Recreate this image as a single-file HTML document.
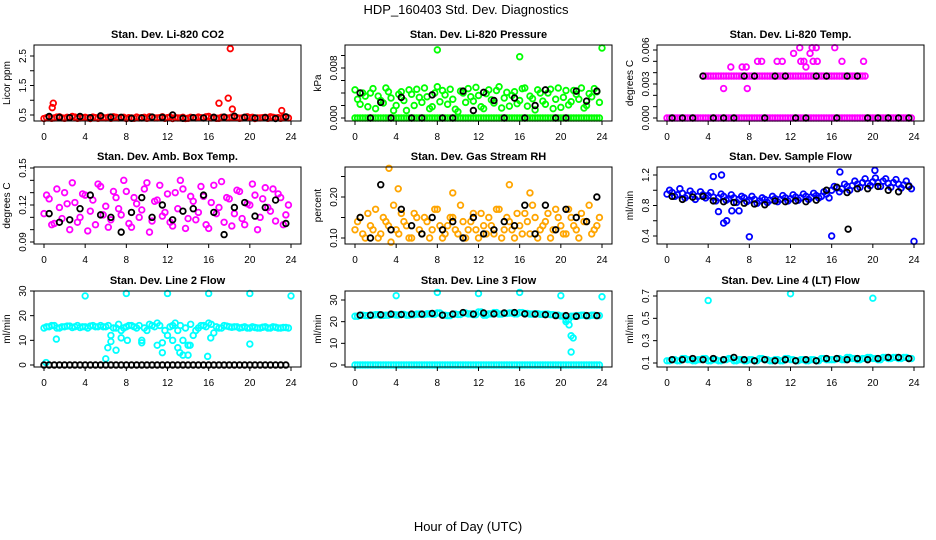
<!DOCTYPE html>
<html><head><meta charset="utf-8"><style>
html,body{margin:0;padding:0;background:#fff;}
svg{display:block;font-family:"Liberation Sans",sans-serif;}
</style></head><body>
<svg id="chart" width="936" height="540">
<text x="466" y="14" font-size="13" text-anchor="middle">HDP_160403  Std. Dev. Diagnostics</text>
<text x="468" y="531" font-size="13" text-anchor="middle">Hour of Day (UTC)</text>
</svg>
<script>
const X48=[0,0.5,1,1.5,2,2.5,3,3.5,4,4.5,5,5.5,6,6.5,7,7.5,8,8.5,9,9.5,10,10.5,11,11.5,12,12.5,13,13.5,14,14.5,15,15.5,16,16.5,17,17.5,18,18.5,19,19.5,20,20.5,21,21.5,22,22.5,23,23.5];
const X48b=[0.25,0.75,1.25,1.75,2.25,2.75,3.25,3.75,4.25,4.75,5.25,5.75,6.25,6.75,7.25,7.75,8.25,8.75,9.25,9.75,10.25,10.75,11.25,11.75,12.25,12.75,13.25,13.75,14.25,14.75,15.25,15.75,16.25,16.75,17.25,17.75,18.25,18.75,19.25,19.75,20.25,20.75,21.25,21.75,22.25,22.75,23.25,23.75];
const X24=[0.5,1.5,2.5,3.5,4.5,5.5,6.5,7.5,8.5,9.5,10.5,11.5,12.5,13.5,14.5,15.5,16.5,17.5,18.5,19.5,20.5,21.5,22.5,23.5];
const ZERO48=[0,0,0,0,0,0,0,0,0,0,0,0,0,0,0,0,0,0,0,0,0,0,0,0,0,0,0,0,0,0,0,0,0,0,0,0,0,0,0,0,0,0,0,0,0,0,0,0];
const xTicks=[0,4,8,12,16,20,24];

const p1Red=[0.38,0.42,0.40,0.44,0.39,0.41,0.43,0.40,0.42,0.38,0.41,0.44,0.40,0.39,0.42,0.41,0.38,0.40,0.43,0.41,0.39,0.42,0.40,0.44,0.41,0.38,0.40,0.42,0.39,0.41,0.43,0.40,0.45,0.42,0.39,0.41,0.40,0.43,0.39,0.42,0.41,0.38,0.40,0.42,0.44,0.40,0.39,0.41];
const p1RedB=[0.41,0.39,0.43,0.40,0.42,0.45,0.39,0.41,0.40,0.43,0.39,0.41,0.42,0.44,0.40,0.42,0.41,0.39,0.40,0.42,0.44,0.40,0.41,0.39,0.43,0.41,0.40,0.38,0.42,0.40,0.41,0.44,0.40,0.39,0.42,0.40,0.43,0.41,0.40,0.44,0.42,0.40,0.41,0.39,0.42,0.41,0.43,0.40];
const p1OutX=[0.8,0.9,17,17.9,18.1,18.3,23.1];
const p1OutY=[0.75,0.9,0.9,1.07,2.75,0.7,0.65];
const p1Blk=[0.45,0.42,0.41,0.45,0.41,0.47,0.43,0.42,0.39,0.40,0.43,0.42,0.50,0.39,0.41,0.40,0.42,0.43,0.46,0.42,0.40,0.41,0.38,0.44];

const p2Grn=[0.0045,0.0022,0.0035,0.0040,0.0015,0.0028,0.0048,0.0032,0.0020,0.0042,0.0012,0.0038,0.0046,0.0025,0.0034,0.0018,0.0050,0.0044,0.0022,0.0030,0.0010,0.0040,0.0047,0.0027,0.0036,0.0015,0.0045,0.0024,0.0050,0.0032,0.0019,0.0042,0.0028,0.0048,0.0035,0.0013,0.0040,0.0022,0.0046,0.0030,0.0017,0.0044,0.0026,0.0038,0.0048,0.0020,0.0034,0.0042];
const p2GrnB=[0.0030,0.0040,0.0018,0.0047,0.0035,0.0024,0.0042,0.0012,0.0038,0.0028,0.0045,0.0020,0.0033,0.0048,0.0015,0.0040,0.0026,0.0037,0.0046,0.0014,0.0043,0.0025,0.0034,0.0049,0.0018,0.0039,0.0029,0.0044,0.0016,0.0041,0.0036,0.0023,0.0047,0.0019,0.0031,0.0045,0.0027,0.0040,0.0015,0.0048,0.0033,0.0021,0.0044,0.0030,0.0016,0.0039,0.0047,0.0025];
const p2OutX=[8,16,24];
const p2OutY=[0.0109,0.0098,0.0112];
const p2Blk=[0.0040,0,0.0025,0,0.0033,0,0,0.0037,0,0,0.0043,0.0012,0.0041,0.0028,0,0.0032,0,0.0020,0.0045,0,0,0.0043,0.0027,0.0043];

const p3Mag=[null,null,null,null,null,null,null,0.0037,0.0037,0.0037,0.0037,0.0037,0.0037,0.0037,0.0037,0.0037,0.0037,0.0037,0.0037,0.0037,0.0037,0.0037,0.0037,0.0037,0.0037,0.0037,0.0037,0.0037,0.0037,0.0037,0.0037,0.0037,0.0037,0.0037,0.0037,0.0037,0.0037,0.0037,0.0037,null,null,null,null,null,null,null,null,null];
const p3UpX=[5.5,6.2,7.3,7.7,7.8,8.8,9.2,10.7,11.2,12.3,12.9,13.3,13.5,13.9,14.1,14.5,14.6,16.3,17,19.1,13,14.2];
const p3UpY=[0.0026,0.0045,0.0045,0.0045,0.0026,0.005,0.005,0.005,0.005,0.0057,0.0062,0.005,0.0045,0.0057,0.0062,0.0062,0.005,0.0062,0.005,0.005,0.005,0.005];
const p3Blk=[0,0,0,0.0037,0,0,0,0.0037,0.0037,0,0.0037,0.0037,0,0,0.0037,0.0037,0,0.0037,0.0037,0,0,0,0,0];

const p4Mag=[0.113,0.125,0.105,0.118,0.130,0.100,0.122,0.110,0.128,0.115,0.104,0.135,0.119,0.108,0.126,0.112,0.131,0.102,0.121,0.116,0.138,0.107,0.124,0.111,0.129,0.103,0.117,0.133,0.109,0.123,0.114,0.127,0.101,0.136,0.118,0.106,0.125,0.113,0.131,0.104,0.120,0.128,0.110,0.134,0.115,0.107,0.126,0.112];
const p4MagB=[0.128,0.104,0.133,0.109,0.121,0.138,0.106,0.129,0.099,0.124,0.137,0.112,0.102,0.131,0.117,0.140,0.105,0.126,0.110,0.133,0.098,0.123,0.136,0.114,0.106,0.130,0.140,0.101,0.127,0.108,0.135,0.104,0.122,0.113,0.139,0.126,0.103,0.132,0.109,0.121,0.137,0.100,0.125,0.118,0.133,0.129,0.104,0.120];
const p4Blk=[0.113,0.106,0.108,0.117,0.128,0.112,0.110,0.098,0.114,0.126,0.110,0.120,0.108,0.115,0.117,0.128,0.114,0.096,0.118,0.122,0.111,0.118,0.124,0.105];

const p5Org=[0.12,0.15,0.10,0.13,0.17,0.11,0.14,0.09,0.12,0.16,0.13,0.10,0.15,0.11,0.14,0.12,0.17,0.10,0.13,0.15,0.11,0.14,0.12,0.16,0.10,0.13,0.15,0.11,0.17,0.12,0.14,0.10,0.13,0.16,0.11,0.15,0.12,0.14,0.10,0.17,0.13,0.11,0.15,0.12,0.16,0.14,0.11,0.13];
const p5OrgB=[0.14,0.11,0.16,0.12,0.10,0.15,0.13,0.18,0.11,0.14,0.10,0.16,0.12,0.15,0.10,0.17,0.13,0.11,0.15,0.12,0.18,0.10,0.14,0.12,0.16,0.11,0.13,0.17,0.10,0.15,0.12,0.16,0.11,0.14,0.18,0.10,0.13,0.16,0.12,0.15,0.11,0.17,0.13,0.10,0.14,0.18,0.12,0.15];
const p5OutX=[3.3,4.2,15,17,9.5];
const p5OutY=[0.27,0.22,0.23,0.21,0.21];
const p5Blk=[0.15,0.10,0.23,0.12,0.17,0.13,0.11,0.15,0.12,0.14,0.10,0.15,0.11,0.12,0.14,0.13,0.18,0.11,0.18,0.12,0.17,0.15,0.14,0.20];

const p6Blu=[0.95,0.97,0.94,0.96,0.93,0.95,0.92,0.94,0.93,0.91,0.90,0.92,0.89,0.90,0.88,0.90,0.87,0.88,0.86,0.88,0.87,0.89,0.88,0.90,0.89,0.91,0.90,0.92,0.91,0.93,0.92,0.95,1.00,1.03,1.02,1.05,1.06,1.08,1.10,1.09,1.11,1.10,1.12,1.09,1.10,1.08,1.07,1.06];
const p6BluB=[1.00,0.92,1.02,0.90,0.99,0.88,0.98,0.90,0.97,0.86,0.95,0.87,0.94,0.84,0.92,0.85,0.92,0.83,0.90,0.84,0.92,0.85,0.93,0.86,0.94,0.87,0.95,0.88,0.96,0.90,0.98,0.90,1.05,0.98,1.08,1.00,1.12,1.04,1.15,1.06,1.16,1.05,1.15,1.04,1.14,1.03,1.12,1.02];
const p6OutX=[5,5.5,5.8,6.3,7,8,16,24,16.8,20.2,4.5,5.3];
const p6OutY=[0.72,0.57,0.6,0.73,0.73,0.39,0.4,0.33,1.24,1.26,1.18,1.2];
const p6Blk=[0.92,0.88,0.91,0.92,0.86,0.85,0.84,0.83,0.82,0.81,0.86,0.85,0.86,0.85,0.87,1.00,1.04,0.97,1.02,1.02,1.05,1.00,0.98,1.05];
const p6BlkOutX=[17.6];
const p6BlkOutY=[0.49];

const p7Cyn=[15,15.5,16,15,15.5,15.8,15.5,15.2,15.5,15.8,15.5,16,15.5,12,15,14,15.5,16,15,10,14,16,17,9,12,16,14,10,8,12,15,16,17,13,15,16,15.5,15.5,15,15.5,15,15.2,15,15.5,15,15.3,15,15.2];
const p7CynB=[15.5,16,15,15.5,15.8,15.2,16,15.5,15,16,15.5,15.5,16,15,16.5,15,16,15.5,16,15,16.5,15.5,16,14,15.5,17,16,15,16.5,14,16,15.5,16.5,15.5,15,15.8,15.3,15.5,15.2,15,15.5,15,15.3,15,15.5,15,15.2,15];
const p7OutX=[6.2,6.5,7,7.5,8.1,9.5,11,11.5,12.5,13,13.2,13.5,14,14.2,15.9,16.2,20,6,1.2,0.2,4,8,12,16,20,24];
const p7OutY=[7,9.5,6,11,10,9,8,5,10,7,5,4,4,8,3.5,11,8.5,2.5,10.5,1,28,29,29,29,29,28];

const p8Cyn=[22.5,23,22.8,23,23.2,22.9,23,23.3,23.1,23.4,23,23.2,23.5,23.3,23.6,23.4,24,23,22.8,23.5,23.3,24,23.6,23.2,24.5,23,23.6,24.2,23.5,23.8,24,23.6,24.2,23.8,23.5,23.7,23.4,23.5,23.2,23,22.6,21,22.5,22.8,23,22.7,23,22.8];
const p8OutX=[4,8,12,16,20,24,20.5,20.8,21,21.2,21];
const p8OutY=[32,33.5,33,33.5,32,31.5,20,18.5,13.5,12.5,6];
const p8Blk=[23,23,23.2,23.5,23.3,23.5,23.5,23.8,23,23.5,24.2,23.5,24,23.6,24,24.2,23.6,23.5,23.2,22.8,22.8,22.5,22.8,22.8];

const p9Cyn=[0.12,0.13,0.12,0.14,0.13,0.12,0.13,0.14,0.12,0.13,0.12,0.13,0.14,0.12,0.13,0.12,0.13,0.12,0.14,0.13,0.12,0.13,0.12,0.14,0.13,0.12,0.13,0.12,0.13,0.12,0.14,0.13,0.13,0.14,0.13,0.15,0.14,0.13,0.14,0.15,0.14,0.13,0.15,0.14,0.15,0.14,0.15,0.14];
const p9OutX=[4,12,20];
const p9OutY=[0.66,0.72,0.68];
const p9Blk=[0.13,0.13,0.14,0.13,0.14,0.13,0.15,0.13,0.12,0.13,0.12,0.13,0.12,0.13,0.12,0.14,0.14,0.13,0.14,0.13,0.14,0.15,0.15,0.14];

const svg=document.getElementById('chart');
const NS='http://www.w3.org/2000/svg';
function mk(tag,attrs,parent){const e=document.createElementNS(NS,tag);for(const k in attrs)e.setAttribute(k,attrs[k]);(parent||svg).appendChild(e);return e;}

const colL=[34,345,657], W=267, rows=[[45,121],[167,244],[291,367]];

function panel(o){
  const l=colL[o.col], r=l+W, t=rows[o.row][0], b=rows[o.row][1];
  const g=mk('g',{});
  
  
  const xs=v=>l+10+v*(W-20)/24;
  const ys=v=>o.y0+(v-o.v0)*(o.y1-o.y0)/(o.v1-o.v0);
  const pts=mk('g',{},g);
  
  
  function series(xArr,yArr,color,nm){
    for(let i=0;i<yArr.length;i++){
      if(yArr[i]===null)continue;
      const yy=ys(yArr[i]); if(yy<t-2||yy>b+2)continue;
      const c=mk('circle',{cx:xs(xArr[i]),cy:yy,r:2.8,fill:'none',stroke:color,'stroke-width':1.8},pts);
      
      
    }
  }
  o.series.forEach(s=>series(s[0],s[1],s[2],s[3]));
  const box=mk('rect',{x:l,y:t,width:W,height:b-t,fill:'none',stroke:'#000','stroke-width':1},g);
  
  
  const tt=mk('text',{x:(l+r)/2,y:t-7,'font-size':11,'font-weight':'bold','text-anchor':'middle'},g);
  tt.textContent=o.title;
  
  
  xTicks.forEach(v=>{
    const x=xs(v);
    mk('line',{x1:x,x2:x,y1:b,y2:b+4,stroke:'#000'},g);
    const tx=mk('text',{x:x,y:b+19,'font-size':10,'text-anchor':'middle'},g);
    tx.textContent=v;
    
    
  });
  o.yTicks.forEach(v=>{
    const y=ys(v);
    mk('line',{x1:l-4,x2:l,y1:y,y2:y,stroke:'#000'},g);
  });
  o.yLabels.forEach((v,i)=>{
    const y=ys(v);
    const tx=mk('text',{x:l-8,y:y,'font-size':10,'text-anchor':'middle',transform:`rotate(-90 ${l-8} ${y})`},g);
    tx.textContent=o.yLabelText[i];
    
    
  });
  const yl=mk('text',{x:l-24,y:(t+b)/2,'font-size':10,'text-anchor':'middle',transform:`rotate(-90 ${l-24} ${(t+b)/2})`},g);
  yl.textContent=o.ylab;
  
  
}

const RED='#ff0000',GRN='#00ff00',MAG='#ff00ff',ORG='#ffa500',BLU='#0000ff',CYN='#00ffff',BLK='#000000';

panel({name:'panel-co2',col:0,row:0,title:'Stan. Dev. Li-820 CO2',ylab:'Licor ppm',v0:0.5,y0:115,v1:2.5,y1:56,
 yTicks:[0.5,1,1.5,2,2.5],yLabels:[0.5,1.5,2.5],yLabelText:['0.5','1.5','2.5'],
 series:[[X48,p1Red,RED,'co2-point'],[X48b,p1RedB,RED,'co2-point'],[p1OutX,p1OutY,RED,'co2-outlier'],[X24,p1Blk,BLK,'co2-hourly-point']]});
panel({name:'panel-pressure',col:1,row:0,title:'Stan. Dev. Li-820 Pressure',ylab:'kPa',v0:0,y0:118,v1:0.008,y1:68,
 yTicks:[0,0.002,0.004,0.006,0.008,0.010],yLabels:[0,0.008],yLabelText:['0.000','0.008'],
 series:[[X48,ZERO48,GRN,'pressure-point'],[X48b,ZERO48,GRN,'pressure-point'],[X48,p2Grn,GRN,'pressure-point'],[X48b,p2GrnB,GRN,'pressure-point'],[p2OutX,p2OutY,GRN,'pressure-outlier'],[X24,p2Blk,BLK,'pressure-hourly-point']]});
panel({name:'panel-li820-temp',col:2,row:0,title:'Stan. Dev. Li-820 Temp.',ylab:'degrees C',v0:0,y0:118,v1:0.006,y1:50,
 yTicks:[0,0.001,0.002,0.003,0.004,0.005,0.006],yLabels:[0,0.003,0.006],yLabelText:['0.000','0.003','0.006'],
 series:[[X48,ZERO48,MAG,'temp-point'],[X48b,ZERO48,MAG,'temp-point'],[X48,p3Mag,MAG,'temp-point'],[X48b,p3Mag,MAG,'temp-point'],[p3UpX,p3UpY,MAG,'temp-point'],[X24,p3Blk,BLK,'temp-hourly-point']]});
panel({name:'panel-amb-box-temp',col:0,row:1,title:'Stan. Dev. Amb. Box Temp.',ylab:'degrees C',v0:0.09,y0:242,v1:0.15,y1:168,
 yTicks:[0.09,0.10,0.11,0.12,0.13,0.14,0.15],yLabels:[0.09,0.12,0.15],yLabelText:['0.09','0.12','0.15'],
 series:[[X48,p4Mag,MAG,'amb-point'],[X48b,p4MagB,MAG,'amb-point'],[X24,p4Blk,BLK,'amb-hourly-point']]});
panel({name:'panel-gas-rh',col:1,row:1,title:'Stan. Dev. Gas Stream RH',ylab:'percent',v0:0.10,y0:238,v1:0.20,y1:197,
 yTicks:[0.10,0.15,0.20,0.25],yLabels:[0.10,0.20],yLabelText:['0.10','0.20'],
 series:[[X48,p5Org,ORG,'rh-point'],[X48b,p5OrgB,ORG,'rh-point'],[p5OutX,p5OutY,ORG,'rh-outlier'],[X24,p5Blk,BLK,'rh-hourly-point']]});
panel({name:'panel-sample-flow',col:2,row:1,title:'Stan. Dev. Sample Flow',ylab:'ml/min',v0:0.4,y0:236,v1:1.2,y1:175,
 yTicks:[0.4,0.6,0.8,1.0,1.2],yLabels:[0.4,0.8,1.2],yLabelText:['0.4','0.8','1.2'],
 series:[[X48,p6Blu,BLU,'flow-point'],[X48b,p6BluB,BLU,'flow-point'],[p6OutX,p6OutY,BLU,'flow-outlier'],[X24,p6Blk,BLK,'flow-hourly-point'],[p6BlkOutX,p6BlkOutY,BLK,'flow-hourly-point']]});
panel({name:'panel-line2-flow',col:0,row:2,title:'Stan. Dev. Line 2 Flow',ylab:'ml/min',v0:0,y0:365,v1:30,y1:291,
 yTicks:[0,10,20,30],yLabels:[0,10,20,30],yLabelText:['0','10','20','30'],
 series:[[X48,p7Cyn,CYN,'line2-point'],[X48b,p7CynB,CYN,'line2-point'],[p7OutX,p7OutY,CYN,'line2-outlier'],[X48,ZERO48,BLK,'line2-hourly-point']]});
panel({name:'panel-line3-flow',col:1,row:2,title:'Stan. Dev. Line 3 Flow',ylab:'ml/min',v0:0,y0:365,v1:30,y1:300,
 yTicks:[0,10,20,30],yLabels:[0,10,20,30],yLabelText:['0','10','20','30'],
 series:[[X48,ZERO48,CYN,'line3-point'],[X48b,ZERO48,CYN,'line3-point'],[X48,p8Cyn,CYN,'line3-point'],[X48b,p8Cyn,CYN,'line3-point'],[p8OutX,p8OutY,CYN,'line3-outlier'],[X24,p8Blk,BLK,'line3-hourly-point']]});
panel({name:'panel-line4-flow',col:2,row:2,title:'Stan. Dev. Line 4 (LT) Flow',ylab:'ml/min',v0:0.1,y0:363,v1:0.7,y1:296,
 yTicks:[0.1,0.3,0.5,0.7],yLabels:[0.1,0.3,0.5,0.7],yLabelText:['0.1','0.3','0.5','0.7'],
 series:[[X48,p9Cyn,CYN,'line4-point'],[X48b,p9Cyn,CYN,'line4-point'],[p9OutX,p9OutY,CYN,'line4-outlier'],[X24,p9Blk,BLK,'line4-hourly-point']]});
</script>
</body></html>
